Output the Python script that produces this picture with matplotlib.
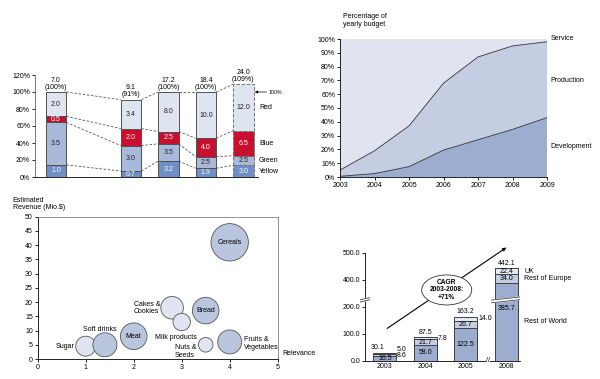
import numpy as np
import matplotlib.pyplot as plt
from matplotlib.patches import Ellipse, Polygon
import matplotlib.transforms as mtransforms

plt.rcParams['font.family'] = ['Liberation Sans', 'DejaVu Sans']
plt.rcParams['font.size'] = 5
plt.rcParams['axes.linewidth'] = 0.6
plt.rcParams['xtick.major.width'] = 0.6
plt.rcParams['ytick.major.width'] = 0.6
plt.rcParams['xtick.major.size'] = 2
plt.rcParams['ytick.major.size'] = 2
plt.rcParams['xtick.major.pad'] = 1.5
plt.rcParams['ytick.major.pad'] = 1.5

# ---- panel 1: segment shares per bar
bar_pos = [0, 2, 3, 4, 5]
yellow = [1.0, 0.7, 3.2, 1.9, 3.0]
green = [3.5, 3.0, 3.5, 2.5, 2.5]
blue = [0.5, 2.0, 2.5, 4.0, 6.5]
red = [2.0, 3.4, 8.0, 10.0, 12.0]
base_100 = [7.0, 10.0, 17.2, 18.4, 22.0]
share_labels = ['100%', '91%', '100%', '100%', '109%']
segment_names = ['Yellow', 'Green', 'Blue', 'Red']

# ---- panel 2: budget split
years = [2003, 2004, 2005, 2006, 2007, 2008, 2009]
development = [0.5, 2.5, 7.5, 19.5, 27.0, 34.5, 43.0]
production = [4.5, 16.5, 29.5, 48.5, 60.0, 60.5, 55.0]
service = [95.0, 81.0, 63.0, 32.0, 13.0, 5.0, 2.0]

# ---- panel 3: bubbles
products = ['Sugar', 'Soft drinks', 'Meat', 'Cakes &\nCookies', 'Milk products',
            'Bread', 'Nuts &\nSeeds', 'Fruits &\nVegetables', 'Cereals']
relevance = [1.0, 1.4, 2.0, 2.8, 3.0, 3.5, 3.5, 4.0, 4.0]
revenue = [4.5, 5.0, 8.0, 18.0, 13.0, 17.0, 5.0, 6.0, 41.0]
bubble_size = [10.0, 12.0, 13.3, 11.3, 8.7, 13.3, 7.3, 12.0, 18.7]
highlight = [False, True, True, False, False, True, False, True, True]

# ---- panel 4: revenue by region
years4 = ['2003', '2004', '2005', '2008']
rest_world = [16.5, 58.0, 122.5, 385.7]
rest_europe = [8.6, 21.7, 26.7, 34.0]
uk = [5.0, 7.8, 14.0, 22.4]

fig = plt.figure(figsize=(6, 3.79), dpi=100)
W, H = 600.0, 379.0

# ================= panel 1 =================
ax1 = fig.add_axes([35 / W, 1 - 177 / H, 223 / W, 102 / H])
cols1 = ['#6f8fc6', '#a9b9da', '#c8102e', '#dfe4f1']
txtc1 = ['white', '#222222', 'white', '#222222']
segs = np.array([yellow, green, blue, red])
pct = segs / np.array(base_100) * 100
cum = np.vstack([np.zeros(len(bar_pos)), np.cumsum(pct, axis=0)])
bw = 0.55
for k in range(4):
    for i, x in enumerate(bar_pos):
        last = i == len(bar_pos) - 1
        ax1.bar(x, pct[k, i], bottom=cum[k, i], width=bw, color=cols1[k],
                edgecolor='#505050' if not last else '#707070',
                linewidth=0.7, linestyle='--' if last else '-', zorder=3)
        ax1.text(x, cum[k, i] + pct[k, i] / 2, f'{segs[k, i]:.1f}', ha='center',
                 va='center', color=txtc1[k], zorder=4)
for i, x in enumerate(bar_pos):
    ax1.text(x, cum[4, i] + 1.5, f'{segs[:, i].sum():.1f}\n({share_labels[i]})',
             ha='center', va='bottom', linespacing=1.0)
for i in range(len(bar_pos) - 1):
    for k in range(1, 5):
        ax1.plot([bar_pos[i] + bw / 2, bar_pos[i + 1] - bw / 2], [cum[k, i], cum[k, i + 1]],
                 ls=(0, (3, 2)), color='#555555', lw=0.6, zorder=2)
for k, name in enumerate(segment_names):
    ax1.text(bar_pos[-1] + 0.42, cum[k, -1] + pct[k, -1] / 2, name, ha='left', va='center')
ax1.annotate('', xy=(bar_pos[-1] + bw / 2 + 0.03, 100), xytext=(bar_pos[-1] + 0.62, 100),
             annotation_clip=False,
             arrowprops=dict(arrowstyle='-|>', lw=0.5, color='black', mutation_scale=4,
                             shrinkA=0, shrinkB=0))
ax1.text(bar_pos[-1] + 0.66, 100, '100%', ha='left', va='center', fontsize=3.8)
ax1.set_xlim(-0.56, 5.39)
ax1.set_ylim(0, 120)
ax1.set_yticks(range(0, 121, 20))
ax1.set_yticklabels([f'{v}%' for v in range(0, 121, 20)])
ax1.set_xticks([])
ax1.spines[['top', 'right']].set_visible(False)
ax1.spines['left'].set_color('#606060')

# ================= panel 2 =================
ax2 = fig.add_axes([340 / W, 1 - 177 / H, 207 / W, 138 / H])
ax2.stackplot(years, development, production, service,
              colors=['#9cadd0', '#c4cde2', '#dfe4f0'], lw=0)
lvl1 = np.array(development)
lvl2 = lvl1 + np.array(production)
ax2.plot(years, lvl1, color='#333333', lw=0.6)
ax2.plot(years, lvl2, color='#333333', lw=0.6)
ax2.set_xlim(2003, 2009)
ax2.set_ylim(0, 100)
ax2.set_xticks(years)
ax2.set_yticks(range(0, 101, 10))
ax2.set_yticklabels([f'{v}%' for v in range(0, 101, 10)])
ax2.spines[['top', 'right']].set_visible(False)
ax2.text(2003.1, 108, 'Percentage of\nyearly budget', ha='left', va='bottom', linespacing=1.1)
ax2.text(2009.1, 100, 'Service', ha='left', va='center')
ax2.text(2009.1, 70, 'Production', ha='left', va='center')
ax2.text(2009.1, 22, 'Development', ha='left', va='center')

# ================= panel 3 =================
ax3 = fig.add_axes([37.7 / W, 1 - 359 / H, 240 / W, 142.3 / H])
sizes = [(2 * r * 72 / 100) ** 2 for r in bubble_size]
fills = ['#bac6de' if h else '#dfe4f0' for h in highlight]
ax3.scatter(relevance, revenue, s=sizes, c=fills, edgecolors='#555555',
            linewidths=0.6, zorder=3, clip_on=False)
label_offsets = {'Sugar': (-8, 0, 'right'), 'Soft drinks': (-3.4, 11, 'center'),
                 'Cakes &\nCookies': (-8.6, 0, 'right'),
                 'Milk products': (-4.5, -10.8, 'center'),
                 'Nuts &\nSeeds': (-14.4, -4.8, 'center'),
                 'Fruits &\nVegetables': (10, -1, 'left')}
for name, x, y in zip(products, relevance, revenue):
    dx, dy, ha = label_offsets.get(name, (0, 0, 'center'))
    ax3.annotate(name, (x, y), xytext=(dx, dy), textcoords='offset points',
                 ha=ha, va='center', linespacing=1.1, zorder=4,
                 multialignment='left')
ax3.set_xlim(0, 5)
ax3.set_ylim(0, 50)
ax3.set_xticks(range(0, 6))
ax3.set_yticks(range(0, 51, 5))
for s in ['top', 'right']:
    ax3.spines[s].set_color('#808080')
ax3.text(-0.52, 52, 'Estimated\nRevenue (Mio.$)', ha='left', va='bottom', linespacing=1.1)
ax3.text(5.1, 2.0, 'Relevance', ha='left', va='center')

# ================= panel 4 =================
def fwd(v):
    v = np.asarray(v, float)
    return np.where(v <= 250, v, np.where(v >= 350, v - 99, 250 + (v - 250) * 0.01))


def inv(d):
    d = np.asarray(d, float)
    return np.where(d <= 250, d, np.where(d >= 251, d + 99, 250 + (d - 250) * 100))


ax4 = fig.add_axes([365 / W, 1 - 360.7 / H, 155 / W, 108 / H])
ax4.set_yscale('function', functions=(fwd, inv))
x4 = np.arange(len(years4))
bw4 = 0.57
b1 = np.array(rest_world)
b2 = b1 + np.array(rest_europe)
b3 = b2 + np.array(uk)
ax4.bar(x4, rest_world, width=bw4, color='#9cadd0', edgecolor='#404040', lw=0.7, zorder=3)
ax4.bar(x4, rest_europe, bottom=b1, width=bw4, color='#c4cde2', edgecolor='#404040', lw=0.7, zorder=3)
ax4.bar(x4, uk, bottom=b2, width=bw4, color='#e6e9f3', edgecolor='#404040', lw=0.7, zorder=3)

for i in range(len(years4)):
    ax4.text(x4[i], b1[i] / 2, f'{rest_world[i]:.1f}', ha='center', va='center', zorder=5)
    out = 0
    for val, lo in [(rest_europe[i], b1[i]), (uk[i], b2[i])]:
        if val < 15:
            ax4.annotate(f'{val:.1f}', (x4[i] + bw4 / 2, lo + val / 2),
                         xytext=(0.5, 3 * out), textcoords='offset points',
                         ha='left', va='center', zorder=5)
            out += 1
        else:
            ax4.text(x4[i], lo + val / 2, f'{val:.1f}', ha='center', va='center', zorder=5)
    dx = -5 if out > 1 else 0
    ax4.annotate(f'{b3[i]:.1f}', (x4[i], b3[i]), xytext=(dx, 1), textcoords='offset points',
                 ha='center', va='bottom', zorder=5)

# break on the last bar and on the axes
brk = 224
xb = x4[-1]
ax4.add_patch(Polygon([(xb - 0.36, brk - 9), (xb + 0.36, brk + 3), (xb + 0.36, brk + 13),
                       (xb - 0.36, brk + 1)], closed=True, color='white', zorder=4, clip_on=False))
ax4.plot([xb - 0.36, xb + 0.36], [brk - 9, brk + 3], color='#404040', lw=0.6, zorder=5)
ax4.plot([xb - 0.36, xb + 0.36], [brk + 1, brk + 13], color='#404040', lw=0.6, zorder=5)
bt = mtransforms.blended_transform_factory(ax4.transAxes, ax4.transData)
ax4.add_patch(Polygon([(-0.03, brk - 6), (0.03, brk + 2), (0.03, brk + 10), (-0.03, brk + 2)],
                      closed=True, color='white', transform=bt, clip_on=False, zorder=4))
ax4.plot([-0.03, 0.03], [brk - 6, brk + 2], color='#404040', lw=0.6, transform=bt, clip_on=False, zorder=5)
ax4.plot([-0.03, 0.03], [brk + 2, brk + 10], color='#404040', lw=0.6, transform=bt, clip_on=False, zorder=5)
ax4.text(2.55, 0, '//', ha='center', va='center', zorder=5,
         bbox=dict(fc='white', ec='none', pad=0.2))

ax4.text(3.45, b2[-1] + uk[-1] / 2, 'UK', ha='left', va='center')
ax4.text(3.45, b1[-1] + rest_europe[-1] / 2, 'Rest of Europe', ha='left', va='center')
ax4.text(3.45, 145, 'Rest of World', ha='left', va='center')

ax4.annotate('', xy=(3.06, 525), xytext=(0, 114), annotation_clip=False,
             arrowprops=dict(arrowstyle='-|>', lw=0.8, color='black', mutation_scale=5))
ax4.add_patch(Ellipse((0.527, 0.655), 0.323, 0.278, transform=ax4.transAxes,
                      fc='white', ec='#333333', lw=0.6, zorder=6))
ax4.text(0.527, 0.655, 'CAGR\n2003-2008:\n+71%', transform=ax4.transAxes, ha='center',
         va='center', fontweight='bold', fontsize=4.8, linespacing=1.1, zorder=7)

ax4.set_xlim(-0.49, 3.34)
ax4.set_ylim(0, 500)
ax4.set_yticks([0, 100, 200, 400, 500])
ax4.set_yticklabels(['0.0', '100.0', '200.0', '400.0', '500.0'])
ax4.set_xticks(x4)
ax4.set_xticklabels(years4)
ax4.tick_params(axis='x', length=0, pad=2)
ax4.spines[['top', 'right']].set_visible(False)

fig.savefig('out.png', dpi=100)
